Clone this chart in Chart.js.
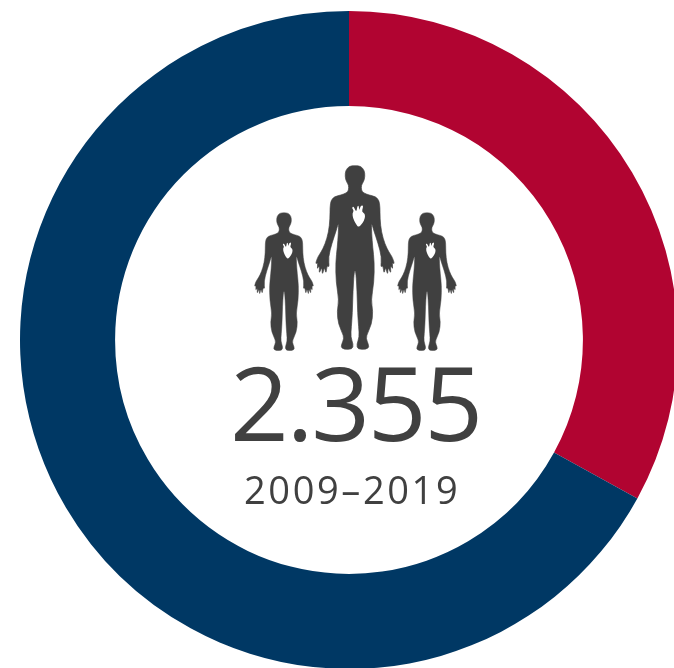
<!DOCTYPE html>
<html>
<head>
<meta charset="utf-8">
<style>
  html, body { margin: 0; padding: 0; background: #fff; overflow: hidden; width: 674px; height: 668px; }
  #ring { position: absolute; left: 0; top: -9px; }
</style>
<script src="https://cdn.jsdelivr.net/npm/chart.js@4"></script>
</head>
<body>
<canvas id="ring" width="698" height="698"></canvas>
<script>
// Case counts per group over the study period
const categories = ['Group A', 'Group B'];
const caseCounts = [777, 1578];
const sliceColors = ['#B10431', '#003864'];
const totalLabel = '2.355';
const periodLabel = '2009\u20132019';
const inkColor = '#404040';

// Right half of a standing figure: [offset from centre line, height], 545 units tall
const bodyHalf = [
  [0,46],[17,47],[28,60],[30,78],[26,94],[19,104],[19,120],[26,128],[42,134],[62,139],[72,150],
  [75,170],[75,205],[79,245],[90,282],[102,306],[112,320],[119,342],[111,336],[114,358],[106,344],
  [108,372],[99,348],[98,376],[92,348],[87,372],[84,344],[77,352],[80,320],[69,278],[56,240],[49,214],
  [50,250],[53,290],[58,335],[57,395],[48,450],[54,482],[50,522],[33,558],[36,572],[43,590],[33,597],[8,597],
  [5,582],[13,560],[11,530],[8,490],[6,420],[3,370],[0,358]
];
// Heart cut-out in the same units, drawn around the chest
const heartShape = [
  [-4,168],[2,182],[5,182],[7,166],[12,166],[12,182],[17,166],[24,165],[24,172],[20,184],[30,190],[30,204],
  [23,218],[11,232],[2,220],[-6,204],[-8,188],[-3,182],[-10,172]
];

function smoothOutline(ctx, pts) {
  const n = pts.length;
  ctx.beginPath();
  ctx.moveTo((pts[n-1][0]+pts[0][0])/2, (pts[n-1][1]+pts[0][1])/2);
  for (let i = 0; i < n; i++) {
    const a = pts[i], b = pts[(i+1)%n];
    ctx.quadraticCurveTo(a[0], a[1], (a[0]+b[0])/2, (a[1]+b[1])/2);
  }
  ctx.closePath();
}

function drawFigure(ctx, cx, topY, scale, heartShift) {
  const mirrored = bodyHalf.slice(1, -1).reverse().map(p => [-p[0], p[1]]);
  ctx.save();
  ctx.translate(cx, topY);
  ctx.scale(scale, scale);
  ctx.translate(0, -47);
  ctx.fillStyle = inkColor;
  ctx.strokeStyle = inkColor;
  ctx.lineWidth = 2;
  ctx.lineJoin = 'round';
  smoothOutline(ctx, bodyHalf.concat(mirrored));
  ctx.fill();
  ctx.stroke();
  ctx.translate(heartShift, 0);
  ctx.fillStyle = '#fff';
  smoothOutline(ctx, heartShape);
  ctx.fill();
  ctx.restore();
}

// Pictogram and totals placed in the hole of the ring
const centerContent = {
  id: 'centerContent',
  afterDraw(chart) {
    const arc = chart.getDatasetMeta(0).data[0];
    const cx = arc.x, cy = arc.y, ctx = chart.ctx;
    drawFigure(ctx, cx + 6, cy - 174, 1 / 3, 0);
    drawFigure(ctx, cx - 65, cy - 127, 0.25, 4);
    drawFigure(ctx, cx + 78, cy - 127, 0.25, 4);
    ctx.save();
    ctx.fillStyle = inkColor;
    ctx.textAlign = 'left';
    ctx.textBaseline = 'alphabetic';
    ctx.font = '400 103px "Open Sans"';
    ctx.letterSpacing = '-2.4px';
    ctx.fillText(totalLabel, cx - 119, cy + 101);
    ctx.font = '400 38px "Open Sans"';
    ctx.letterSpacing = '2.6px';
    ctx.fillText(periodLabel, cx - 105, cy + 164);
    ctx.restore();
  }
};

new Chart(document.getElementById('ring'), {
  type: 'doughnut',
  data: {
    labels: categories,
    datasets: [{ data: caseCounts, backgroundColor: sliceColors, borderWidth: 0 }]
  },
  options: {
    responsive: false,
    animation: false,
    cutout: '71.1%',
    layout: { padding: 20 },
    plugins: { legend: { display: false }, tooltip: { enabled: false } }
  },
  plugins: [centerContent]
});
</script>
</body>
</html>
